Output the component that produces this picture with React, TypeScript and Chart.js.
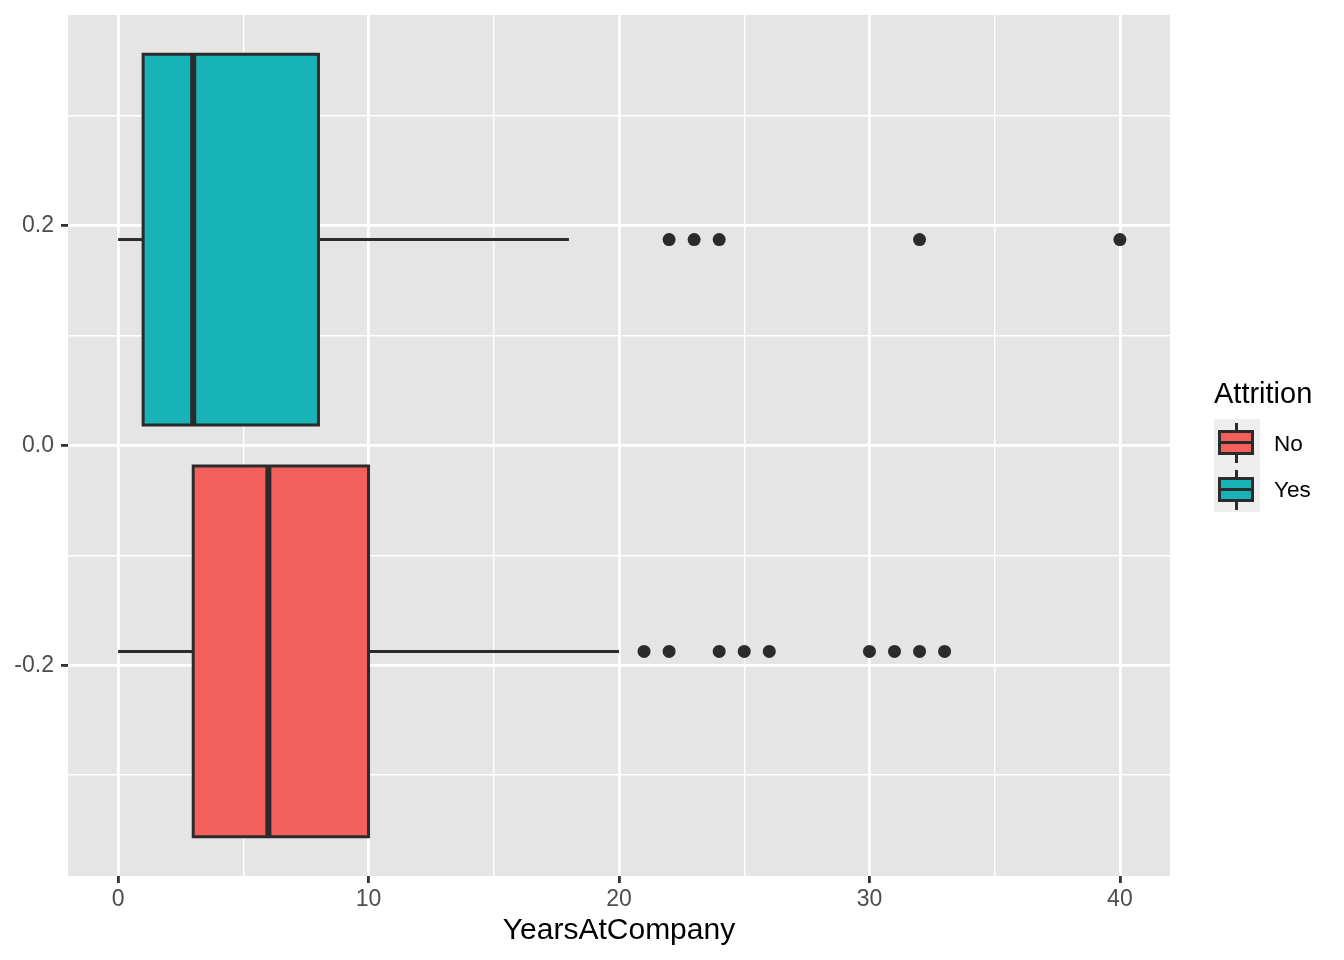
import React, { useEffect, useRef } from "react";
import { Chart, registerables } from "chart.js";

Chart.register(...registerables);

// ---- data ----
const groups = ["No", "Yes"];
const groupCenter = [-0.1875, 0.1875];
const boxHalfHeight = 0.16875;
const lowerWhisker = [0, 0];
const q1 = [3, 1];
const median = [6, 3];
const q3 = [10, 8];
const upperWhisker = [20, 18];
const outliersNo = [21, 22, 24, 25, 26, 30, 31, 32, 33];
const outliersYes = [22, 23, 24, 32, 40];
const outliers = [outliersNo, outliersYes];

const xTicks = [0, 5, 10, 15, 20, 25, 30, 35, 40];
const xMajorTicks = [0, 10, 20, 30, 40];
const yTicks = [-0.3, -0.2, -0.1, 0, 0.1, 0.2, 0.3];
const yMajorTicks = [-0.2, 0, 0.2];
const xRange = [-2, 42];
const yRange = [-0.3919, 0.3919];

const xTitle = "YearsAtCompany";
const legendTitle = "Attrition";

// ---- styles ----
const FONT = '"Liberation Sans", Arial, Helvetica, sans-serif';
const fills = ["#F4605C", "#17B3B7"];
const outline = "#2B2B2B";
const panelColor = "#E5E5E5";
const keyBg = "#EEEEEE";

const isIn = (arr: number[], v: number) => arr.some((a) => Math.abs(a - v) < 1e-9);

const panelBg = {
  id: "panelBg",
  beforeDraw(chart: any) {
    const { ctx, chartArea } = chart;
    if (!chartArea) return;
    ctx.save();
    ctx.fillStyle = panelColor;
    ctx.fillRect(chartArea.left, chartArea.top, chartArea.width, chartArea.height);
    ctx.restore();
  },
};

function buildDatasets() {
  const ds: any[] = [];
  groups.forEach((g, i) => {
    const lo = groupCenter[i] - boxHalfHeight;
    const hi = groupCenter[i] + boxHalfHeight;
    ds.push({
      label: g + " median",
      data: [
        { x: median[i], y: lo },
        { x: median[i], y: hi },
      ],
      showLine: true,
      borderColor: outline,
      borderWidth: 6,
      borderCapStyle: "butt",
      pointRadius: 0,
      fill: false,
    });
  });
  groups.forEach((g, i) => {
    const lo = groupCenter[i] - boxHalfHeight;
    const hi = groupCenter[i] + boxHalfHeight;
    ds.push({
      label: g + " box",
      data: [
        { x: q1[i], y: lo },
        { x: q3[i], y: lo },
        { x: q3[i], y: hi },
        { x: q1[i], y: hi },
        { x: q1[i], y: lo },
      ],
      showLine: true,
      borderColor: outline,
      backgroundColor: fills[i],
      borderWidth: 3,
      borderJoinStyle: "miter",
      borderCapStyle: "square",
      pointRadius: 0,
      tension: 0,
      fill: "shape",
    });
  });
  groups.forEach((g, i) => {
    const c = groupCenter[i];
    ds.push({
      label: g + " lower whisker",
      data: [
        { x: lowerWhisker[i], y: c },
        { x: q1[i], y: c },
      ],
      showLine: true,
      borderColor: outline,
      borderWidth: 3,
      borderCapStyle: "butt",
      pointRadius: 0,
      fill: false,
    });
    ds.push({
      label: g + " upper whisker",
      data: [
        { x: q3[i], y: c },
        { x: upperWhisker[i], y: c },
      ],
      showLine: true,
      borderColor: outline,
      borderWidth: 3,
      borderCapStyle: "butt",
      pointRadius: 0,
      fill: false,
    });
    ds.push({
      label: g + " outliers",
      data: outliers[i].map((v) => ({ x: v, y: c })),
      showLine: false,
      pointRadius: 6.5,
      pointBackgroundColor: outline,
      pointBorderWidth: 0,
      borderWidth: 0,
      fill: false,
    });
  });
  return ds;
}

function LegendKey({ top, fill }: { top: number; fill: string }) {
  return (
    <div style={{ position: "absolute", left: 1214, top, width: 46, height: 46.5, background: keyBg }}>
      <div style={{ position: "absolute", left: 21, top: 4, width: 3, height: 7, background: outline }} />
      <div style={{ position: "absolute", left: 21, top: 36, width: 3, height: 8, background: outline }} />
      <div
        style={{
          position: "absolute",
          left: 4,
          top: 11,
          width: 36,
          height: 25,
          boxSizing: "border-box",
          border: `3px solid ${outline}`,
          background: fill,
        }}
      >
        <div style={{ position: "absolute", left: 0, right: 0, top: 8, height: 3, background: outline }} />
      </div>
    </div>
  );
}

export default function App() {
  const ref = useRef<HTMLCanvasElement | null>(null);

  useEffect(() => {
    if (!ref.current) return;
    const chart = new Chart(ref.current, {
      type: "line",
      data: { datasets: buildDatasets() },
      plugins: [panelBg],
      options: {
        responsive: false,
        animation: false,
        events: [],
        layout: { padding: { top: 15, right: 174, bottom: 0, left: 0 } },
        plugins: { legend: { display: false }, tooltip: { enabled: false } },
        scales: {
          x: {
            type: "linear",
            min: xRange[0],
            max: xRange[1],
            afterBuildTicks: (s: any) => {
              s.ticks = xTicks.map((v) => ({ value: v }));
            },
            afterFit: (s: any) => {
              s.height = 84;
              s.paddingLeft = 0;
              s.paddingRight = 0;
              s.paddingTop = 0;
              s.paddingBottom = 0;
            },
            border: { display: false },
            grid: {
              color: "#FFFFFF",
              lineWidth: (c: any) => (isIn(xMajorTicks, c.tick?.value) ? 2.8 : 1.4),
              drawTicks: true,
              tickLength: 7,
              tickColor: (c: any) => (isIn(xMajorTicks, c.tick?.value) ? "#333333" : "rgba(0,0,0,0)"),
              tickWidth: 2.8,
            },
            ticks: {
              autoSkip: false,
              maxRotation: 0,
              padding: 3,
              color: "#4D4D4D",
              font: { family: FONT, size: 23 },
              callback: (v: any) => (isIn(xMajorTicks, Number(v)) ? String(v) : ""),
            },
            title: {
              display: true,
              text: xTitle,
              color: "#000000",
              font: { family: FONT, size: 30, lineHeight: 1.2 },
              padding: { top: 0, bottom: 11 },
            },
          },
          y: {
            type: "linear",
            min: yRange[0],
            max: yRange[1],
            afterBuildTicks: (s: any) => {
              s.ticks = yTicks.map((v) => ({ value: v }));
            },
            afterFit: (s: any) => {
              s.width = 68;
              s.paddingLeft = 0;
              s.paddingRight = 0;
              s.paddingTop = 0;
              s.paddingBottom = 0;
            },
            border: { display: false },
            grid: {
              color: "#FFFFFF",
              lineWidth: (c: any) => (isIn(yMajorTicks, c.tick?.value) ? 2.8 : 1.4),
              drawTicks: true,
              tickLength: 7,
              tickColor: (c: any) => (isIn(yMajorTicks, c.tick?.value) ? "#333333" : "rgba(0,0,0,0)"),
              tickWidth: 2.8,
            },
            ticks: {
              autoSkip: false,
              padding: 7,
              color: "#4D4D4D",
              font: { family: FONT, size: 23 },
              callback: (v: any) => (isIn(yMajorTicks, Number(v)) ? Number(v).toFixed(1) : ""),
            },
          },
        },
      } as any,
    });
    return () => chart.destroy();
  }, []);

  return (
    <div style={{ position: "absolute", left: 0, top: 0, width: 1344, height: 960, background: "#FFFFFF", fontFamily: FONT }}>
      <canvas ref={ref} width={1344} height={960} style={{ width: 1344, height: 960, display: "block" }} />
      <div style={{ position: "absolute", left: 1214, top: 378.5, fontSize: 29, lineHeight: "29px", color: "#000", whiteSpace: "nowrap" }}>
        {legendTitle}
      </div>
      <LegendKey top={419} fill={fills[0]} />
      <LegendKey top={465.5} fill={fills[1]} />
      <div style={{ position: "absolute", left: 1274, top: 432.6, fontSize: 22.5, lineHeight: "22.5px", color: "#000" }}>
        {groups[0]}
      </div>
      <div style={{ position: "absolute", left: 1274, top: 479, fontSize: 22.5, lineHeight: "22.5px", color: "#000" }}>
        {groups[1]}
      </div>
    </div>
  );
}
